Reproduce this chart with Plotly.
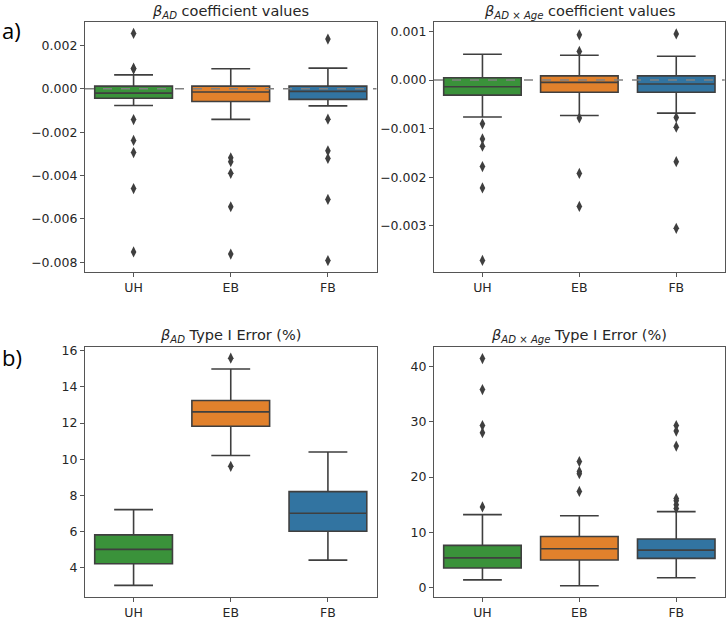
import plotly.graph_objects as go
from plotly.subplots import make_subplots

CATEGORIES = ["UH", "EB", "FB"]
BOX_COLORS = ["#3a923a", "#e1812c", "#3274a1"]
EDGE = "#3f3f3f"
REF_LINE = 0.0

# Panel a) beta_AD coefficient values
ad_q1 = [-0.00044, -0.00059, -0.00049]
ad_med = [-0.00020, -0.00015, -0.00012]
ad_q3 = [0.00012, 0.00012, 0.00012]
ad_lo = [-0.00077, -0.00141, -0.00079]
ad_hi = [0.00064, 0.00092, 0.00095]
ad_out = [
    [0.00255, 0.00095, 0.00091, -0.00142, -0.00238, -0.00294, -0.0046, -0.00752],
    [-0.00318, -0.00336, -0.0039, -0.00544, -0.00762],
    [0.00229, -0.0014, -0.00286, -0.00321, -0.0051, -0.00792],
]

# Panel a) beta_ADxAge coefficient values
adage_q1 = [-0.00031, -0.00025, -0.00025]
adage_med = [-0.000136, -0.000047, -0.00008]
adage_q3 = [0.000047, 0.000087, 0.000087]
adage_lo = [-0.00076, -0.00073, -0.00068]
adage_hi = [0.00053, 0.00051, 0.00049]
adage_out = [
    [-0.00090, -0.00121, -0.00136, -0.00178, -0.00222, -0.00371],
    [0.00093, 0.00059, -0.00078, -0.00192, -0.0026],
    [0.00095, -0.00077, -0.00097, -0.00168, -0.00305],
]

# Panel b) beta_AD Type I error (%)
t1ad_q1 = [4.2, 11.82, 6.0]
t1ad_med = [5.0, 12.62, 7.0]
t1ad_q3 = [5.8, 13.25, 8.2]
t1ad_lo = [3.0, 10.2, 4.4]
t1ad_hi = [7.2, 15.0, 10.4]
t1ad_out = [[], [15.6, 9.6], []]

# Panel b) beta_ADxAge Type I error (%)
t1age_q1 = [3.56, 5.0, 5.3]
t1age_med = [5.4, 7.05, 6.8]
t1age_q3 = [7.65, 9.25, 8.8]
t1age_lo = [1.42, 0.35, 1.8]
t1age_hi = [13.2, 13.0, 13.75]
t1age_out = [
    [41.4, 35.8, 29.3, 28.0, 14.6],
    [22.8, 21.0, 20.6, 17.4],
    [29.3, 28.3, 25.6, 16.1, 15.7, 15.0, 14.3],
]

PANELS = [
    (1, 1, ad_q1, ad_med, ad_q3, ad_lo, ad_hi, ad_out),
    (1, 2, adage_q1, adage_med, adage_q3, adage_lo, adage_hi, adage_out),
    (2, 1, t1ad_q1, t1ad_med, t1ad_q3, t1ad_lo, t1ad_hi, t1ad_out),
    (2, 2, t1age_q1, t1age_med, t1age_q3, t1age_lo, t1age_hi, t1age_out),
]

fig = make_subplots(rows=2, cols=2)

for row, col, q1, med, q3, lo, hi, outs in PANELS:
    for i, cat in enumerate(CATEGORIES):
        fig.add_trace(
            go.Box(
                x=[cat], q1=[q1[i]], median=[med[i]], q3=[q3[i]],
                lowerfence=[lo[i]], upperfence=[hi[i]],
                fillcolor=BOX_COLORS[i], line=dict(color=EDGE, width=1.6),
                width=0.8, whiskerwidth=0.5, boxpoints=False, showlegend=False,
            ),
            row=row, col=col,
        )
        if outs[i]:
            fig.add_trace(
                go.Scatter(
                    x=[cat] * len(outs[i]), y=outs[i], mode="markers",
                    marker=dict(symbol="diamond-tall", size=8, color=EDGE),
                    showlegend=False,
                ),
                row=row, col=col,
            )

# dashed zero reference lines for the coefficient panels
for col in (1, 2):
    fig.add_hline(y=REF_LINE, row=1, col=col, line=dict(color="#808080", width=1.6, dash="dash"), layer="above")

XDOM = [[85 / 726, 376.5 / 726], [434 / 726, 724.7 / 726]]
YDOM = [[1 - 272 / 620, 1 - 18 / 620], [1 - 601.7 / 620, 1 - 348 / 620]]
YRANGES = {
    (1, 1): ([-0.00845, 0.00309], 0.002, ".3f"),
    (1, 2): ([-0.00395, 0.0012], 0.001, ".3f"),
    (2, 1): ([2.36, 16.22], 2, "d"),
    (2, 2): ([-1.67, 43.5], 10, "d"),
}
axis_style = dict(
    showline=True, linecolor="#555555", linewidth=1.2, mirror=True,
    ticks="outside", ticklen=4, tickcolor="#555555", showgrid=False, zeroline=False,
    tickfont=dict(family="DejaVu Sans", size=12.5, color="#262626"),
)
for (row, col), (rng, dt, fmt) in YRANGES.items():
    fig.update_xaxes(domain=XDOM[col - 1], range=[-0.5, 2.5], row=row, col=col, **axis_style)
    fig.update_yaxes(domain=YDOM[row - 1], range=rng, dtick=dt, tickformat=fmt, row=row, col=col, **axis_style)

TITLES = [
    ("<i>β<sub>AD</sub></i> coefficient values", 230.5, 8),
    ("<i>β<sub>AD × Age</sub></i> coefficient values", 579.4, 8),
    ("<i>β<sub>AD</sub></i> Type I Error (%)", 230.5, 337),
    ("<i>β<sub>AD × Age</sub></i> Type I Error (%)", 579.4, 337),
]
for text, x, y in TITLES:
    fig.add_annotation(
        text=text, x=x / 726, y=1 - y / 620, xref="paper", yref="paper",
        showarrow=False, xanchor="center", yanchor="middle",
        font=dict(family="DejaVu Sans", size=14.5, color="#262626"),
    )
for text, y in (("a)", 26), ("b)", 358)):
    fig.add_annotation(
        text=text, x=0, y=1 - y / 620, xref="paper", yref="paper",
        showarrow=False, xanchor="left", yanchor="middle",
        font=dict(family="Open Sans", size=22, color="#000000"),
    )

fig.update_layout(
    width=726, height=620, margin=dict(l=0, r=0, t=0, b=0),
    plot_bgcolor="white", paper_bgcolor="white", boxmode="overlay",
)
fig.write_html(
    "out.html",
    config={"displayModeBar": False},
    post_script="document.body.style.margin='0';",
)
